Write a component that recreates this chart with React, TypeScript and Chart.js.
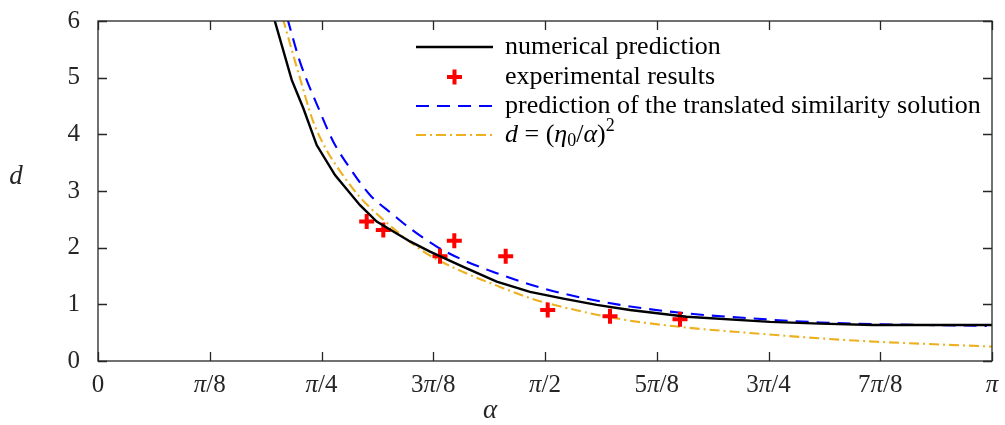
import React, { useEffect, useRef } from "react";
import { Chart, registerables } from "chart.js";
Chart.register(...registerables);

// ---- data (alpha in radians, d) ----
const numAlpha = [0.6185, 0.6807, 0.7215, 0.7685, 0.8328, 0.9207, 0.9794, 1.0964, 1.1667, 1.2837, 1.4011, 1.5181, 1.6351, 1.7525, 1.8695, 2.0688, 2.3615, 2.5372, 2.7235, 3.1416];
const numD = [6.05, 4.96, 4.46, 3.81, 3.28, 2.75, 2.46, 2.11, 1.93, 1.66, 1.4, 1.22, 1.1, 0.99, 0.9, 0.78, 0.69, 0.66, 0.635, 0.635];

const expAlpha = [0.9442, 1.0026, 1.2018, 1.2521, 1.4327, 1.5803, 1.7992, 2.0452];
const expD = [2.46, 2.31, 1.85, 2.12, 1.85, 0.9, 0.79, 0.735];

const simAlpha = [0.6652, 0.7098, 0.7801, 0.8269, 0.8856, 0.9558, 1.0377, 1.0964, 1.1902, 1.2837, 1.4011, 1.5181, 1.6351, 1.8344, 2.0688, 2.3028, 2.5372, 2.7365, 3.123];
const simD = [6.05, 5.28, 4.4, 3.87, 3.4, 2.93, 2.58, 2.34, 2.02, 1.78, 1.55, 1.35, 1.19, 0.99, 0.84, 0.75, 0.68, 0.65, 0.62];

const powAlpha = [0.6491, 0.7098, 0.7566, 0.8037, 0.862, 0.9207, 1.0377, 1.0964, 1.1667, 1.2837, 1.4011, 1.5181, 1.6351, 1.8344, 2.0688, 2.3028, 2.5372, 2.7365, 3.1416];
const powD = [6.05, 4.99, 4.22, 3.72, 3.27, 2.89, 2.34, 2.1, 1.86, 1.57, 1.33, 1.11, 0.95, 0.74, 0.59, 0.49, 0.4, 0.34, 0.255];

const xTickFractions = [0, 1, 2, 3, 4, 5, 6, 7, 8]; // multiples of pi/8
const xTickLabels = ["0", "π/8", "π/4", "3π/8", "π/2", "5π/8", "3π/4", "7π/8", "π"];
const legendLabels = ["numerical prediction", "experimental results", "prediction of the translated similarity solution", "d = (η0/α)^2"];

const FONT = "'Liberation Serif', 'Times New Roman', serif";
const AXIS = "#262626";
const BLACK = "#000000";
const RED = "#ff0000";
const BLUE = "#0000ff";
const ORANGE = "#EDB120";
const TICK_SIZE = 25;
const LEG_SIZE = 26;

type Seg = { t: string; i?: boolean; sub?: boolean; sup?: boolean };

function labelSegs(s: string): Seg[] {
  const out: Seg[] = [];
  for (const ch of s) {
    if (ch === "π") out.push({ t: ch, i: true });
    else out.push({ t: ch });
  }
  return out;
}

function drawSegs(ctx: CanvasRenderingContext2D, segs: Seg[], x: number, y: number, size: number, align: "left" | "center", color: string) {
  const fontFor = (s: Seg) => `${s.i ? "italic " : ""}${s.sub || s.sup ? Math.round(size * 0.7) : size}px ${FONT}`;
  let total = 0;
  const widths = segs.map((s) => {
    ctx.font = fontFor(s);
    const w = ctx.measureText(s.t).width;
    total += w;
    return w;
  });
  let cx = align === "center" ? x - total / 2 : x;
  ctx.fillStyle = color;
  ctx.textBaseline = "middle";
  ctx.textAlign = "left";
  segs.forEach((s, k) => {
    ctx.font = fontFor(s);
    let yy = y;
    if (s.sub) yy = y + size * 0.25;
    if (s.sup) yy = y - size * 0.35;
    ctx.fillText(s.t, cx, yy);
    cx += widths[k];
  });
}

const frame = {
  id: "frame",
  afterDraw(chart: any) {
    const { ctx, chartArea: a, scales } = chart;
    const xs = scales.x;
    const ys = scales.y;
    ctx.save();
    ctx.strokeStyle = AXIS;
    ctx.lineWidth = 1.3;
    ctx.strokeRect(a.left, a.top, a.right - a.left, a.bottom - a.top);
    const L = 9;
    ctx.beginPath();
    xTickFractions.forEach((k) => {
      const px = Math.round(xs.getPixelForValue((k * Math.PI) / 8)) + 0.5;
      ctx.moveTo(px, a.bottom);
      ctx.lineTo(px, a.bottom - L);
      ctx.moveTo(px, a.top);
      ctx.lineTo(px, a.top + L);
    });
    ys.ticks.forEach((t: any) => {
      const py = Math.round(ys.getPixelForValue(t.value)) + 0.5;
      ctx.moveTo(a.left, py);
      ctx.lineTo(a.left + L, py);
      ctx.moveTo(a.right, py);
      ctx.lineTo(a.right - L, py);
    });
    ctx.stroke();
    // x tick labels
    xTickFractions.forEach((k, idx) => {
      const px = xs.getPixelForValue((k * Math.PI) / 8);
      drawSegs(ctx, labelSegs(xTickLabels[idx]), px, a.bottom + 24, TICK_SIZE, "center", AXIS);
    });
    // axis titles
    drawSegs(ctx, [{ t: "α", i: true }], 490, a.bottom + 50, 27, "center", AXIS);
    drawSegs(ctx, [{ t: "d", i: true }], 16, 177, 27, "center", AXIS);

    // legend
    const lx0 = 416, lx1 = 493, tx = 505;
    const rows = [47, 77, 106, 135];
    const dsets = chart.data.datasets;
    rows.forEach((ry, r) => {
      const ds = dsets[r];
      ctx.save();
      ctx.strokeStyle = ds.borderColor;
      ctx.lineWidth = ds.borderWidth;
      if (r === 1) {
        const c = (lx0 + lx1) / 2;
        ctx.beginPath();
        ctx.moveTo(c - 7.5, ry);
        ctx.lineTo(c + 7.5, ry);
        ctx.moveTo(c, ry - 7.5);
        ctx.lineTo(c, ry + 7.5);
        ctx.stroke();
      } else {
        ctx.setLineDash(ds.borderDash || []);
        ctx.beginPath();
        ctx.moveTo(lx0, ry);
        ctx.lineTo(lx1, ry);
        ctx.stroke();
      }
      ctx.restore();
      let segs: Seg[];
      if (r === 3) {
        segs = [
          { t: "d", i: true },
          { t: " = (" },
          { t: "η", i: true },
          { t: "0", sub: true },
          { t: "/" },
          { t: "α", i: true },
          { t: ")" },
          { t: "2", sup: true },
        ];
      } else segs = [{ t: legendLabels[r] }];
      drawSegs(ctx, segs, tx, ry, LEG_SIZE, "left", BLACK);
    });
    ctx.restore();
  },
};

const toPts = (xs: number[], ys: number[]) => xs.map((x, i) => ({ x, y: ys[i] }));

export default function App() {
  const ref = useRef<HTMLCanvasElement | null>(null);
  useEffect(() => {
    if (!ref.current) return;
    const chart = new Chart(ref.current, {
      type: "scatter",
      data: {
        datasets: [
          { label: legendLabels[0], data: toPts(numAlpha, numD), showLine: true, borderColor: BLACK, backgroundColor: BLACK, borderWidth: 2.4, pointRadius: 0, tension: 0 },
          { label: legendLabels[1], data: toPts(expAlpha, expD), showLine: false, borderColor: RED, backgroundColor: RED, borderWidth: 4, pointStyle: "cross", pointRadius: 7.5 },
          { label: legendLabels[2], data: toPts(simAlpha, simD), showLine: true, borderColor: BLUE, backgroundColor: BLUE, borderWidth: 2.1, borderDash: [13, 8], pointRadius: 0, cubicInterpolationMode: "monotone" },
          { label: legendLabels[3], data: toPts(powAlpha, powD), showLine: true, borderColor: ORANGE, backgroundColor: ORANGE, borderWidth: 2.1, borderDash: [10, 4, 2, 4], pointRadius: 0, cubicInterpolationMode: "monotone" },
        ] as any,
      },
      options: {
        responsive: false,
        animation: false,
        devicePixelRatio: 1,
        layout: { padding: { left: 0, right: 13, top: 21, bottom: 0 } },
        plugins: { legend: { display: false }, tooltip: { enabled: false } },
        scales: {
          x: {
            type: "linear",
            min: 0,
            max: Math.PI,
            ticks: { display: false },
            grid: { display: false },
            border: { display: false },
            afterFit: (s: any) => { s.height = 64; s.paddingLeft = 0; s.paddingRight = 0; },
          },
          y: {
            min: 0,
            max: 6,
            ticks: { stepSize: 1, padding: 10, color: AXIS, font: { family: FONT, size: TICK_SIZE } },
            grid: { display: false },
            border: { display: false },
            afterFit: (s: any) => { s.width = 98; s.paddingTop = 0; s.paddingBottom = 0; },
          },
        },
      },
      plugins: [frame],
    });
    return () => chart.destroy();
  }, []);
  return (
    <div style={{ position: "absolute", left: 0, top: 0, width: 1005, height: 425, background: "#fff" }}>
      <canvas ref={ref} width={1005} height={425} />
    </div>
  );
}
